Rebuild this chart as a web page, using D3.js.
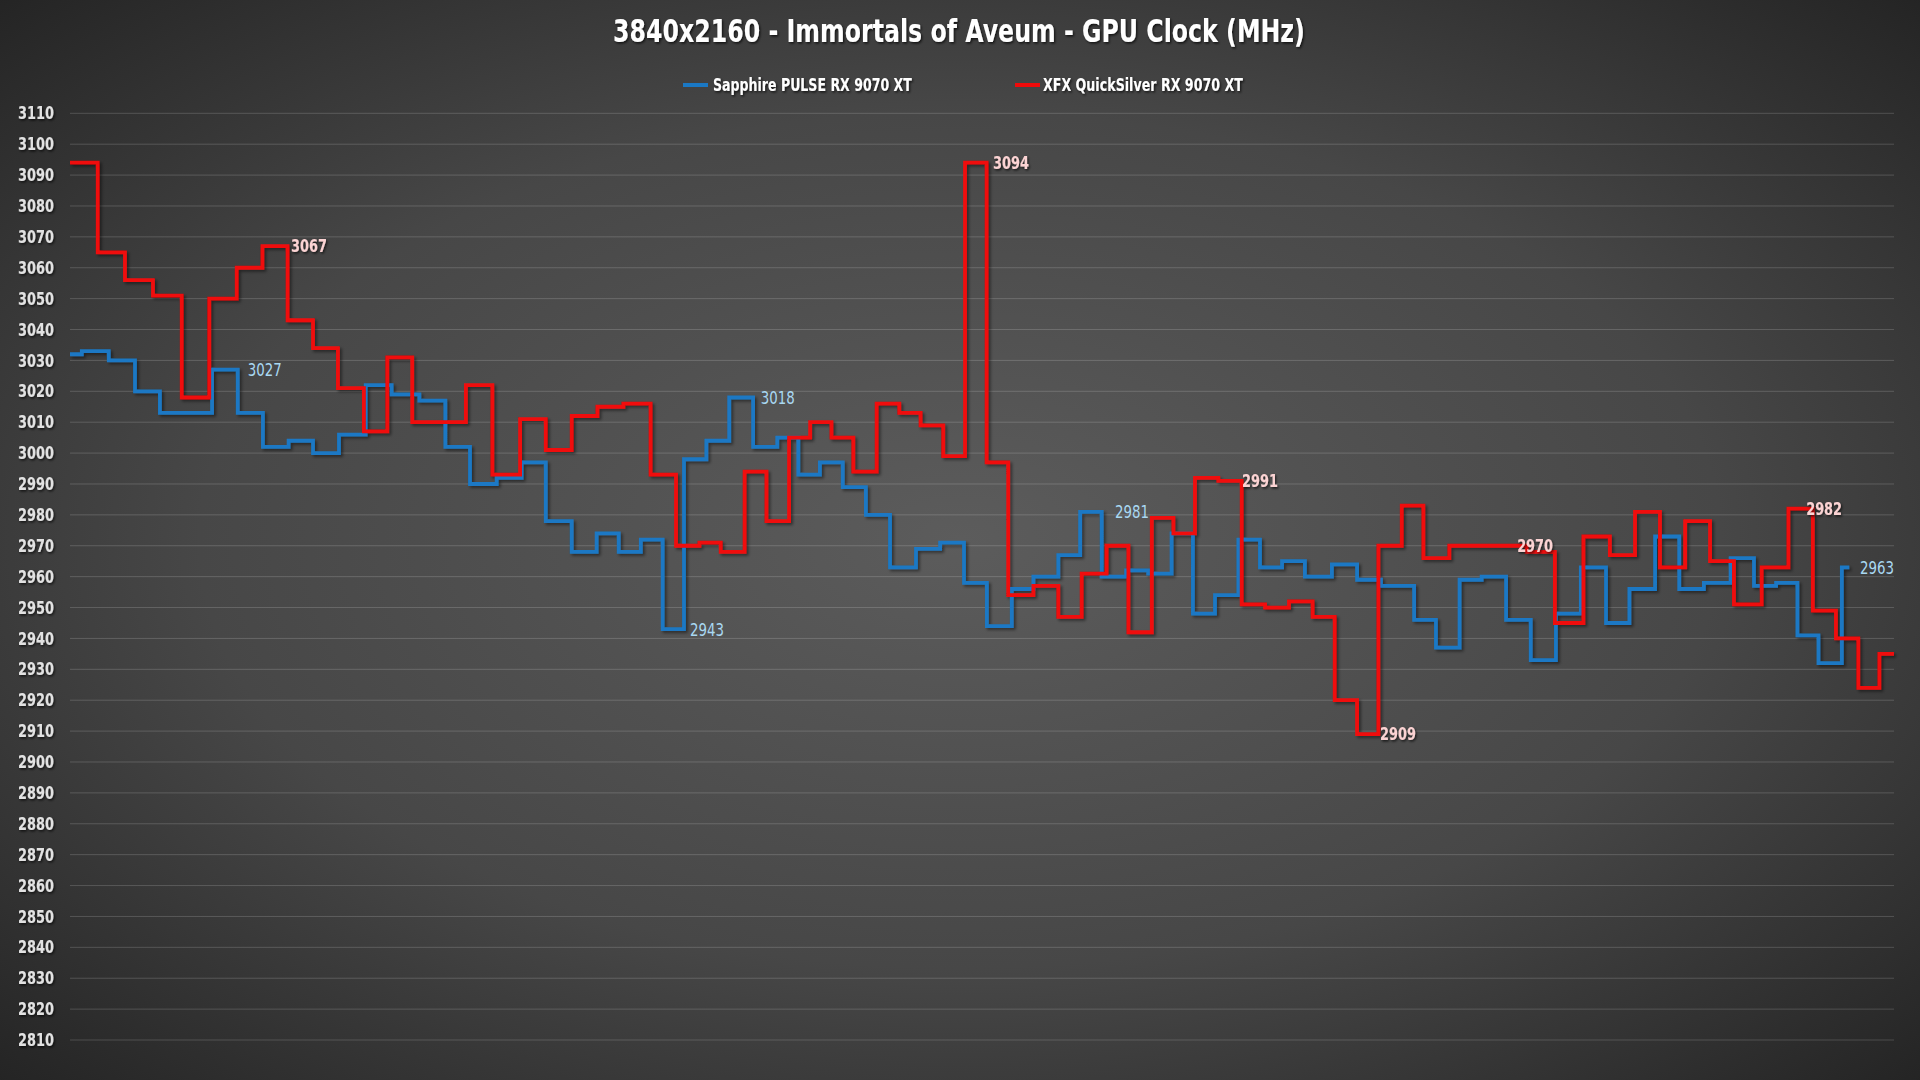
<!DOCTYPE html>
<html>
<head>
<meta charset="utf-8">
<script src="https://cdn.jsdelivr.net/npm/d3@7"></script>
<style>
  html, body { margin: 0; padding: 0; background: #2a2a2a; }
  svg { display: block; }
  text { font-family: "DejaVu Sans Condensed", "Liberation Sans Narrow", "Open Sans", sans-serif; }
</style>
</head>
<body>
<svg id="chart" width="1920" height="1080"></svg>
<script>
// ---------------- DATA ----------------
const chartTitle = "3840x2160 - Immortals of Aveum - GPU Clock (MHz)";
const seriesNames = ["Sapphire PULSE RX 9070 XT", "XFX QuickSilver RX 9070 XT"];
const yTicks = [2810, 2820, 2830, 2840, 2850, 2860, 2870, 2880, 2890, 2900, 2910, 2920, 2930, 2940, 2950,
                2960, 2970, 2980, 2990, 3000, 3010, 3020, 3030, 3040, 3050, 3060, 3070, 3080, 3090, 3100, 3110];

// time (s) at which each sample starts, and the clock value held until the next sample
const blueTimes = [0, 0.46, 1.51, 2.53, 3.50, 4.52, 5.53, 6.53, 7.51, 8.51,
  9.46, 10.47, 11.51, 12.52, 13.60, 14.61, 15.57, 16.61, 17.58, 18.52,
  19.53, 20.50, 21.36, 22.22, 23.07, 23.90, 24.77, 25.66, 26.59, 27.53,
  28.35, 29.19, 30.08, 30.98, 31.92, 32.93, 33.87, 34.80, 35.69, 36.66,
  37.50, 38.47, 39.32, 40.16, 41.11, 41.97, 42.88, 43.71, 44.57, 45.48,
  46.32, 47.18, 48.07, 49.12, 50.10, 51.03, 52.32, 53.17, 54.09, 54.95,
  55.90, 56.86, 57.84, 58.81, 59.79, 60.70, 61.70, 62.64, 63.60, 64.64,
  65.55, 66.41, 67.24, 68.06, 68.97];
const blueValues = [3032, 3033, 3030, 3020, 3013, 3013, 3027, 3013, 3002, 3004,
  3000, 3006, 3022, 3019, 3017, 3002, 2990, 2992, 2997, 2978,
  2968, 2974, 2968, 2972, 2943, 2998, 3004, 3018, 3002, 3005,
  2993, 2997, 2989, 2980, 2963, 2969, 2971, 2958, 2944, 2956,
  2960, 2967, 2981, 2960, 2962, 2961, 2974, 2948, 2954, 2972,
  2963, 2965, 2960, 2964, 2959, 2957, 2946, 2937, 2959, 2960,
  2946, 2933, 2948, 2963, 2945, 2956, 2973, 2956, 2958, 2966,
  2957, 2958, 2941, 2932, 2963];
const blueEnd = 69.26;

const redTimes = [0, 1.08, 2.14, 3.23, 4.35, 5.42, 6.49, 7.49, 8.47, 9.46,
  10.43, 11.44, 12.35, 13.32, 14.36, 15.41, 16.44, 17.52, 18.52, 19.53,
  20.53, 21.54, 22.60, 23.59, 24.50, 25.33, 26.26, 27.11, 27.99, 28.81,
  29.64, 30.49, 31.40, 32.28, 33.11, 33.99, 34.84, 35.68, 36.52, 37.50,
  38.47, 39.38, 40.35, 41.20, 42.11, 42.95, 43.79, 44.70, 45.61, 46.52,
  47.45, 48.37, 49.23, 50.10, 50.93, 51.84, 52.68, 53.69, 54.69, 55.70,
  56.70, 57.80, 58.91, 59.94, 60.92, 61.89, 62.87, 63.84, 64.77, 65.85,
  66.89, 67.84, 68.74, 69.61, 70.43];
const redValues = [3094, 3065, 3056, 3051, 3018, 3050, 3060, 3067, 3043, 3034,
  3021, 3007, 3031, 3010, 3010, 3022, 2993, 3011, 3001, 3012,
  3015, 3016, 2993, 2970, 2971, 2968, 2994, 2978, 3005, 3010,
  3005, 2994, 3016, 3013, 3009, 2999, 3094, 2997, 2954, 2957,
  2947, 2961, 2970, 2942, 2979, 2974, 2992, 2991, 2951, 2950,
  2952, 2947, 2920, 2909, 2970, 2983, 2966, 2970, 2970, 2970,
  2968, 2945, 2973, 2967, 2981, 2963, 2978, 2965, 2951, 2963,
  2982, 2949, 2940, 2924, 2935];
const redEnd = 71;

// data labels: [time where label starts, value]
const blueLabelTimes  = [6.92, 26.89, 24.13, 40.68, 69.68];
const blueLabelValues = [3027, 3018, 2943, 2981, 2963];
const redLabelTimes   = [8.60, 35.93, 45.62, 50.99, 56.33, 67.58];
const redLabelValues  = [3067, 3094, 2991, 2909, 2970, 2982];

// ---------------- STYLE / LAYOUT ----------------
const W = 1920, H = 1080;
const plot = { left: 70, right: 1894, top: 113.3, bottom: 1040 };
const blueColor = "#1a78c4", redColor = "#f00a0a";
const blueLabelColor = "#a9d8f2", redLabelColor = "#fbd3d3";

const svg = d3.select("#chart");
const defs = svg.append("defs");
const bg = defs.append("radialGradient").attr("id", "bg")
  .attr("cx", "50%").attr("cy", "50%").attr("r", "72%");
bg.append("stop").attr("offset", "0%").attr("stop-color", "#5c5c5c");
bg.append("stop").attr("offset", "55%").attr("stop-color", "#474747");
bg.append("stop").attr("offset", "100%").attr("stop-color", "#232323");

const sh = defs.append("filter").attr("id", "shadow")
  .attr("x", "-5%").attr("y", "-5%").attr("width", "110%").attr("height", "110%");
sh.append("feDropShadow").attr("dx", 2).attr("dy", 2).attr("stdDeviation", 1.5)
  .attr("flood-color", "#000").attr("flood-opacity", 0.45);

const tsh = defs.append("filter").attr("id", "tshadow");
tsh.append("feDropShadow").attr("dx", 1.5).attr("dy", 1.5).attr("stdDeviation", 1)
  .attr("flood-color", "#000").attr("flood-opacity", 0.7);

svg.append("rect").attr("width", W).attr("height", H).attr("fill", "url(#bg)");

const x = d3.scaleLinear().domain([0, 71]).range([plot.left, plot.right]);
const y = d3.scaleLinear().domain([2810, 3110]).range([plot.bottom, plot.top]);

// gridlines
svg.append("g").selectAll("line").data(yTicks).join("line")
  .attr("x1", plot.left).attr("x2", plot.right)
  .attr("y1", d => y(d)).attr("y2", d => y(d))
  .attr("stroke", "#ffffff").attr("stroke-opacity", 0.17).attr("stroke-width", 1);

// y axis via d3.axisLeft
const yAxis = d3.axisLeft(y).tickValues(yTicks).tickSize(0).tickPadding(0).tickFormat(d3.format("d"));
const gy = svg.append("g").attr("transform", `translate(54,0)`).call(yAxis);
gy.select(".domain").remove();
gy.selectAll("text")
  .attr("fill", "#e2e2e2").attr("font-size", 17.5).attr("font-weight", "bold")
  .attr("font-family", "'DejaVu Sans Condensed', 'Liberation Sans Narrow', sans-serif")
  .attr("filter", "url(#tshadow)");
{
  const w0 = gy.select("text").node().getComputedTextLength();
  const sx = w0 > 0 ? 36 / w0 : 1;
  gy.selectAll("text").attr("transform", `scale(${sx},1)`);
}

// lines
const line = d3.line().x(d => x(d[0])).y(d => y(d[1])).curve(d3.curveStepAfter);
function pts(times, values, end) {
  const p = times.map((t, i) => [t, values[i]]);
  p.push([end, values[values.length - 1]]);
  return p;
}
const series = [
  { pts: pts(blueTimes, blueValues, blueEnd), color: blueColor },
  { pts: pts(redTimes, redValues, redEnd), color: redColor }
];
svg.append("g").attr("filter", "url(#shadow)").selectAll("path").data(series).join("path")
  .attr("d", d => line(d.pts))
  .attr("fill", "none").attr("stroke", d => d.color)
  .attr("stroke-width", 3.8).attr("stroke-linejoin", "miter").attr("stroke-linecap", "butt");

// helper: condense text horizontally so it spans the target width
function condense(sel, cx, cy, target) {
  sel.attr("x", 0).attr("y", 0);
  const w = sel.node().getComputedTextLength();
  const sx = w > 0 ? target / w : 1;
  sel.attr("transform", `translate(${cx},${cy}) scale(${sx},1)`);
}

// data labels
svg.append("g").selectAll("text").data(blueLabelTimes.map((t, i) => [t, blueLabelValues[i]])).join("text")
  .attr("dominant-baseline", "central")
  .attr("fill", blueLabelColor).attr("font-size", 18.5)
  .text(d => d[1])
  .each(function(d) { condense(d3.select(this), x(d[0]), y(d[1]), 34); });
svg.append("g").selectAll("text").data(redLabelTimes.map((t, i) => [t, redLabelValues[i]])).join("text")
  .attr("dominant-baseline", "central")
  .attr("fill", redLabelColor).attr("font-size", 18).attr("font-weight", "bold")
  .attr("filter", "url(#tshadow)")
  .text(d => d[1])
  .each(function(d) { condense(d3.select(this), x(d[0]), y(d[1]), 36); });

// title
const title = svg.append("text")
  .attr("text-anchor", "middle").attr("dominant-baseline", "central")
  .attr("fill", "#ffffff").attr("font-size", 32).attr("font-weight", "bold")
  .attr("filter", "url(#tshadow)")
  .text(chartTitle);
condense(title, 959, 31, 692);

// legend
const legendItems = [
  { name: seriesNames[0], color: blueColor, x0: 683, tx: 713, tw: 199 },
  { name: seriesNames[1], color: redColor, x0: 1015, tx: 1043, tw: 200 }
];
const lg = svg.append("g");
legendItems.forEach(it => {
  lg.append("line").attr("x1", it.x0).attr("x2", it.x0 + 25).attr("y1", 85).attr("y2", 85)
    .attr("stroke", it.color).attr("stroke-width", 4);
  const t = lg.append("text").attr("dominant-baseline", "central")
    .attr("fill", "#ffffff").attr("font-size", 17.5).attr("font-weight", "bold")
    .attr("filter", "url(#tshadow)")
    .text(it.name);
  condense(t, it.tx, 85, it.tw);
});
</script>
</body>
</html>
